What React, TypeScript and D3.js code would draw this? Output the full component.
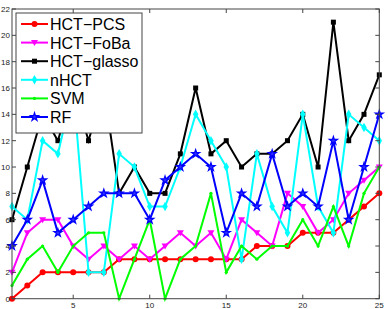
import React from 'react'
import * as d3 from 'd3'

const xs = d3.range(1, 26)

const hctPcs = [0, 1, 2, 2, 2, 2, 2, 3, 3, 3, 3, 3, 3, 3, 3, 3, 4, 4, 4, 5, 5, 5, 6, 7, 8]
const hctFoba = [2, 5, 6, 6, 4, 3, 4, 3, 4, 3, 4, 5, 4, 5, 3, 6, 5, 4, 8, 7, 5, 6, 8, 9, 10]
const hctGlasso = [6, 10, 14, 12, 16, 12, 16, 8, 10, 8, 8, 11, 16, 11, 12, 10, 11, 11, 12, 14, 10, 21, 12, 14, 17]
const nhct = [7, 6, 12, 11, 16, 2, 2, 11, 10, 7, 7, 10, 14, 12, 10, 3, 11, 7, 5, 14, 7, 5, 14, 13, 12]
const svm = [1, 3, 4, 2, 4, 5, 5, 0, 3, 6, 0, 3, 4, 8, 2, 4, 3, 4, 4, 6, 4, 7, 4, 8, 10]
const rf = [4, 6, 9, 5, 6, 7, 8, 8, 8, 6, 9, 10, 11, 10, 5, 8, 7, 11, 7, 8, 7, 12, 6, 10, 14]

const yTicks = d3.range(0, 23, 2)
const xTicks = [5, 10, 15, 20, 25]

const series = [
  { name: 'HCT−PCS', values: hctPcs, color: '#ff0000', marker: 'circle' },
  { name: 'HCT−FoBa', values: hctFoba, color: '#ff00ff', marker: 'tri' },
  { name: 'HCT−glasso', values: hctGlasso, color: '#000000', marker: 'square' },
  { name: 'nHCT', values: nhct, color: '#00ffff', marker: 'diamond' },
  { name: 'SVM', values: svm, color: '#00ff00', marker: 'dot' },
  { name: 'RF', values: rf, color: '#0000ff', marker: 'star' },
]

const W = 388
const H = 309
const left = 12
const right = 379.3
const top = 9
const bottom = 298.7

function Marker({ type, color, x, y }: { type: string; color: string; x: number; y: number }) {
  const t = `translate(${x},${y})`
  if (type === 'circle') return <circle cx={x} cy={y} r={3} fill={color} />
  if (type === 'square') return <rect x={x - 2.5} y={y - 2.5} width={5} height={5} fill={color} />
  if (type === 'dot') return <circle cx={x} cy={y} r={1.6} fill={color} />
  if (type === 'tri') {
    return <path transform={t} d="M-3.5,-2.5L3.5,-2.5L0,3.5Z" fill={color} />
  }
  if (type === 'diamond') {
    return <path transform={t} d={d3.symbol(d3.symbolDiamond, 26)() || ''} fill={color} />
  }
  return (
    <path transform={t} d={d3.symbol(d3.symbolStar, 20)() || ''} fill="#3030ff" stroke={color} strokeWidth={1.2} />
  )
}

export default function App() {
  const x = d3.scaleLinear().domain([1, 25]).range([left, right])
  const y = d3.scaleLinear().domain([0, 22]).range([bottom, top])

  const line = d3.line<number>()
    .x((d, i) => x(xs[i]))
    .y(d => y(d))

  const axisColor = '#444'
  const legX = 16
  const legY = 13
  const rowH = 18.6

  return (
    <div style={{ position: 'fixed', left: 0, top: 0 }}>
      <svg width={W} height={H} style={{ display: 'block', background: '#fff' }}
        fontFamily="'Liberation Sans', Arial, sans-serif">
        {series.map(s => (
          <g key={s.name}>
            <path d={line(s.values) || ''} fill="none" stroke={s.color} strokeWidth={2} />
            {s.values.map((v, i) => (
              <Marker key={i} type={s.marker} color={s.color} x={x(xs[i])} y={y(v)} />
            ))}
          </g>
        ))}

        <rect x={left} y={top} width={right - left} height={bottom - top}
          fill="none" stroke={axisColor} strokeWidth={1} />

        {yTicks.map(t => (
          <g key={'y' + t}>
            <line x1={left} x2={left + 4} y1={y(t)} y2={y(t)} stroke={axisColor} />
            <line x1={right - 4} x2={right} y1={y(t)} y2={y(t)} stroke={axisColor} />
            <text x={left - 2} y={y(t) + 3} fontSize={8} textAnchor="end" fill="#222">{t}</text>
          </g>
        ))}
        {xTicks.map(t => (
          <g key={'x' + t}>
            <line x1={x(t)} x2={x(t)} y1={bottom} y2={bottom - 4} stroke={axisColor} />
            <line x1={x(t)} x2={x(t)} y1={top} y2={top + 4} stroke={axisColor} />
            <text x={x(t)} y={308} fontSize={8} textAnchor="middle" fill="#222">{t}</text>
          </g>
        ))}

        <g>
          <rect x={legX} y={legY} width={126} height={120} fill="#fff" stroke={axisColor} strokeWidth={1} />
          {series.map((s, i) => {
            const cy = legY + 11 + i * rowH
            return (
              <g key={'l' + s.name}>
                <line x1={21} x2={48} y1={cy} y2={cy} stroke={s.color} strokeWidth={2} />
                <Marker type={s.marker} color={s.color} x={34.5} y={cy} />
                <text x={50} y={cy + 6} fontSize={16} fill="#000">{s.name}</text>
              </g>
            )
          })}
        </g>
      </svg>
    </div>
  )
}
